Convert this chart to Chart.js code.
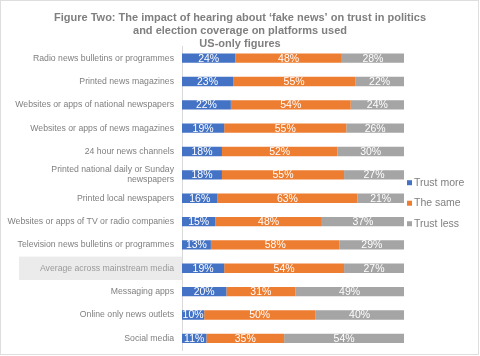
<!DOCTYPE html>
<html>
<head>
<meta charset="utf-8">
<script src="https://cdn.jsdelivr.net/npm/chart.js@4.4.1/dist/chart.umd.min.js"></script>
<style>
html,body{margin:0;padding:0;background:#fff;}
canvas{display:block;}
</style>
</head>
<body>
<canvas id="c" width="480" height="356"></canvas>
<script>
const titleLines = [
  "Figure Two: The impact of hearing about \u2018fake news\u2019 on trust in politics",
  "and election coverage on platforms used",
  "US-only figures"
];
const categories = [
  "Radio news bulletins or programmes",
  "Printed news magazines",
  "Websites or apps of national newspapers",
  "Websites or apps of news magazines",
  "24 hour news channels",
  ["Printed national daily or Sunday", "newspapers"],
  "Printed local newspapers",
  "Websites or apps of TV or radio companies",
  "Television news bulletins or programmes",
  "Average across mainstream media",
  "Messaging apps",
  "Online only news outlets",
  "Social media"
];
const highlightIndex = 9;
const seriesNames = ["Trust more", "The same", "Trust less"];
const trustMore = [24, 23, 22, 19, 18, 18, 16, 15, 13, 19, 20, 10, 11];
const theSame   = [48, 55, 54, 55, 52, 55, 63, 48, 58, 54, 31, 50, 35];
const trustLess = [28, 22, 24, 26, 30, 27, 21, 37, 29, 27, 49, 40, 54];
const seriesColors = ["#4472C4", "#ED7D31", "#A5A5A5"];

const FONT = "'Liberation Sans', Arial, sans-serif";
const GREY = "#7f7f7f";

const highlightPlugin = {
  id: 'highlight',
  beforeDraw(chart) {
    const y = chart.scales.y;
    const ctx = chart.ctx;
    const band = Math.abs(y.getPixelForValue(1) - y.getPixelForValue(0));
    const cy = y.getPixelForValue(highlightIndex);
    ctx.save();
    ctx.fillStyle = "#ebebeb";
    ctx.fillRect(19, cy - band / 2, chart.chartArea.left - 19, band);
    ctx.restore();
  }
};

const valueLabels = {
  id: 'valueLabels',
  afterDatasetsDraw(chart) {
    const ctx = chart.ctx;
    ctx.save();
    ctx.font = "10.5px " + FONT;
    ctx.fillStyle = "#ffffff";
    ctx.textAlign = "center";
    ctx.textBaseline = "middle";
    chart.data.datasets.forEach((ds, di) => {
      const meta = chart.getDatasetMeta(di);
      meta.data.forEach((el, i) => {
        const x = (el.x + el.base) / 2;
        ctx.fillText(ds.data[i] + "%", x, el.y + 0.5);
      });
    });
    ctx.restore();
  }
};

const sideLegend = {
  id: 'sideLegend',
  afterDraw(chart) {
    const ctx = chart.ctx;
    const area = chart.chartArea;
    const mid = (area.top + area.bottom) / 2;
    const step = 20.5;
    ctx.save();
    ctx.font = "10.5px " + FONT;
    ctx.textBaseline = "middle";
    ctx.textAlign = "left";
    chart.data.datasets.forEach((ds, i) => {
      const cy = mid + (i - 1) * step + 5;
      ctx.fillStyle = ds.backgroundColor;
      ctx.fillRect(area.right + 3, cy - 2.5, 5, 5);
      ctx.fillStyle = GREY;
      ctx.fillText(ds.label, area.right + 10, cy);
    });
    ctx.strokeStyle = "#dedede";
    ctx.lineWidth = 1;
    ctx.strokeRect(0.5, 0.5, 478, 354);
    ctx.restore();
  }
};

new Chart(document.getElementById('c'), {
  type: 'bar',
  data: {
    labels: categories,
    datasets: [
      { label: seriesNames[0], data: trustMore, backgroundColor: seriesColors[0] },
      { label: seriesNames[1], data: theSame,   backgroundColor: seriesColors[1] },
      { label: seriesNames[2], data: trustLess, backgroundColor: seriesColors[2] }
    ]
  },
  options: {
    indexAxis: 'y',
    responsive: false,
    animation: false,
    devicePixelRatio: 1,
    datasets: { bar: { barPercentage: 0.4, categoryPercentage: 1.0, borderWidth: 0 } },
    layout: { padding: { left: 0, right: 0, top: 0, bottom: 6 } },
    plugins: {
      legend: { display: false },
      tooltip: { enabled: false },
      title: {
        display: true,
        text: titleLines,
        color: GREY,
        font: { family: FONT, size: 11, weight: 'bold', lineHeight: 1.165 },
        padding: { top: 11.5, bottom: -3.5 }
      }
    },
    scales: {
      x: {
        stacked: true,
        display: false,
        min: 0,
        max: 100
      },
      y: {
        stacked: true,
        afterFit(scale) { scale.width = 182; scale.paddingTop = 0; scale.paddingBottom = 0; },
        grid: { display: false, drawTicks: false },
        border: { display: true, color: "#d9d9d9", width: 1 },
        ticks: {
          padding: 8,
          autoSkip: false,
          color: (c) => c.index === highlightIndex ? "#9a9a9a" : GREY,
          font: { family: FONT, size: 8.7, lineHeight: 1.2 }
        }
      },
      legendSpace: {
        type: 'category',
        position: 'right',
        labels: [''],
        afterFit(scale) { scale.width = 76; scale.paddingTop = 0; scale.paddingBottom = 0; },
        grid: { display: false, drawTicks: false },
        border: { display: false },
        ticks: { display: false }
      }
    }
  },
  plugins: [highlightPlugin, valueLabels, sideLegend]
});
</script>
</body>
</html>
